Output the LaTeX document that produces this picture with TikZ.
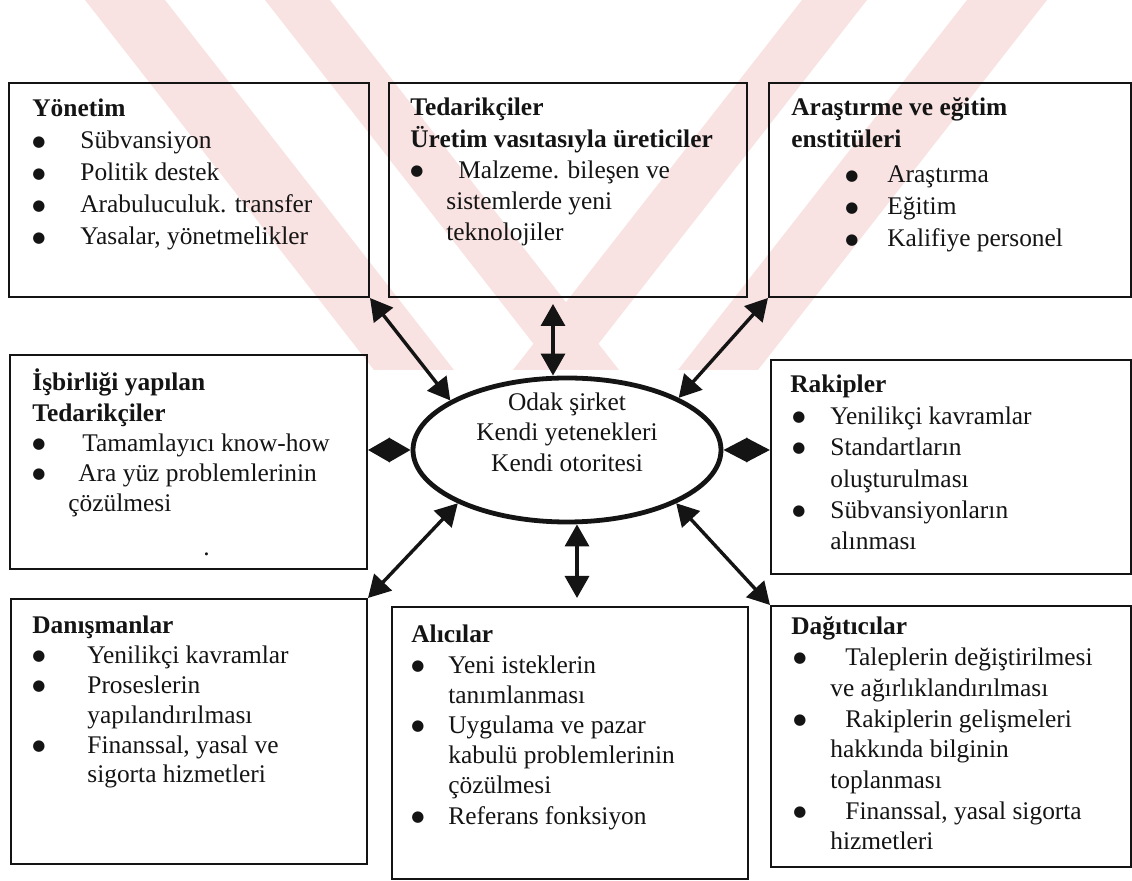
\documentclass[tikz,border=0pt]{standalone}
\usepackage{fontspec}
\setmainfont{Liberation Serif}
\newfontfamily\simge{DejaVu Sans}
\usetikzlibrary{arrows.meta,positioning,calc,shapes.geometric}
\definecolor{Ink}{HTML}{141414}
\definecolor{Pembe}{HTML}{F9E2E2}
\newcommand{\buyuknokta}{\raisebox{1.4pt}{\simge\fontsize{7.5}{7.5}\selectfont ●}}
\newcommand{\mad}[3][0pt]{\hspace*{#1}\makebox[#2][l]{\buyuknokta}#3}
\newcommand{\dev}[2]{\hspace*{#1}#2}
\newcommand{\liste}[1]{\parbox[t]{190pt}{#1}}
\tikzset{
  kutu/.style={draw=Ink,line width=1pt,anchor=north west,inner sep=0pt},
  yazi/.style={anchor=base west,inner sep=0pt,text=Ink},
  odakstil/.style={draw=Ink,ellipse,line width=2.4pt,minimum width=154pt,minimum height=72pt,inner sep=0pt},
  ok/.style={{Triangle[length=#1,width=12pt]}-{Triangle[length=#1,width=12pt]},draw=Ink,line width=1.7pt},
  ok/.default=11pt,
  filigran/.style={fill=Pembe},
}

\begin{document}
\begin{tikzpicture}[x=0.5pt,y=-0.5pt]
    \useasboundingbox (0,0) rectangle (1132,881);

    \begin{scope}
      \clip (0,0) rectangle (1132,370);
      \foreach \a/\b in {85/165,265/330}
        \fill[filigran] (\a,0) -- (\b,0) -- ++(289,370) -- ++(\a-\b,0) -- cycle;
      \foreach \a/\b in {967/1047,802/867}
        \fill[filigran] (\a,0) -- (\b,0) -- ++(-289,370) -- ++(\a-\b,0) -- cycle;
    \end{scope}

    \node[kutu,minimum width=180pt,minimum height=107pt] (yonetim) at (8,82) {};
    \node[kutu,minimum width=179pt,minimum height=107pt] (tedarik) at (388,82) {};
    \node[kutu,minimum width=181pt,minimum height=107pt] (arastirma) at (768,82) {};
    \node[kutu,minimum width=178.5pt,minimum height=107pt] (isbirligi) at (9,354) {};
    \node[kutu,minimum width=180pt,minimum height=107pt] (rakip) at (770,359) {};
    \node[kutu,minimum width=178pt,minimum height=132.5pt] (danisman) at (10,598) {};
    \node[kutu,minimum width=178pt,minimum height=136pt] (alici) at (391,606) {};
    \node[kutu,minimum width=180pt,minimum height=130.5pt] (dagitici) at (770,605) {};

    \node[yazi,font=\fontsize{12.7}{16}\selectfont] (yonetim-yazi) at (32,117) {\liste{%
      \textbf{Yönetim}\\
      \mad{24pt}{Sübvansiyon}\\
      \mad{24pt}{Politik destek}\\
      \mad{24pt}{Arabuluculuk. transfer}\\
      \mad{24pt}{Yasalar, yönetmelikler}}};

    \node[yazi,font=\fontsize{12.7}{15.6}\selectfont] (tedarik-yazi) at (410,116) {\liste{%
      \textbf{Tedarikçiler}\\
      \textbf{Üretim vasıtasıyla üreticiler}\\
      \mad{24pt}{Malzeme. bileşen ve}\\
      \dev{18pt}{sistemlerde yeni}\\
      \dev{18pt}{teknolojiler}}};

    \node[yazi,font=\fontsize{12.7}{16}\selectfont] (arastirma-yazi) at (791,116) {\liste{%
      \textbf{Araştırme ve eğitim}\\
      \textbf{enstitüleri}\\[1.5pt]
      \mad[27pt]{21pt}{Araştırma}\\
      \mad[27pt]{21pt}{Eğitim}\\
      \mad[27pt]{21pt}{Kalifiye personel}}};

    \node[yazi,font=\fontsize{12.7}{15.1}\selectfont] (isbirligi-yazi) at (32,391) {\liste{%
      \textbf{İşbirliği yapılan}\\
      \textbf{Tedarikçiler}\\
      \mad{25pt}{Tamamlayıcı know-how}\\
      \mad{23pt}{Ara yüz problemlerinin}\\
      \dev{18pt}{çözülmesi}}};
    \node[yazi,font=\fontsize{12.7}{15}\selectfont] (nokta) at (203,556) {.};

    \node[yazi,font=\fontsize{12.7}{15.7}\selectfont] (rakip-yazi) at (790,393) {\liste{%
      \textbf{Rakipler}\\
      \mad[1pt]{19pt}{Yenilikçi kavramlar}\\
      \mad[1pt]{19pt}{Standartların}\\
      \dev{20pt}{oluşturulması}\\
      \mad[1pt]{19pt}{Sübvansiyonların}\\
      \dev{20pt}{alınması}}};

    \node[yazi,font=\fontsize{12.7}{14.9}\selectfont] (danisman-yazi) at (32,634) {\liste{%
      \textbf{Danışmanlar}\\
      \mad{27.5pt}{Yenilikçi kavramlar}\\
      \mad{27.5pt}{Proseslerin}\\
      \dev{27.5pt}{yapılandırılması}\\
      \mad{27.5pt}{Finanssal, yasal ve}\\
      \dev{27.5pt}{sigorta hizmetleri}}};

    \node[yazi,font=\fontsize{12.7}{15.1}\selectfont] (alici-yazi) at (411,643) {\liste{%
      \textbf{Alıcılar}\\
      \mad{18.5pt}{Yeni isteklerin}\\
      \dev{18.5pt}{tanımlanması}\\
      \mad{18.5pt}{Uygulama ve pazar}\\
      \dev{18.5pt}{kabulü problemlerinin}\\
      \dev{18.5pt}{çözülmesi}\\
      \mad{18.5pt}{Referans fonksiyon}}};

    \node[yazi,font=\fontsize{12.7}{15.35}\selectfont] (dagitici-yazi) at (791,635) {\liste{%
      \textbf{Dağıtıcılar}\\
      \mad[1pt]{26pt}{Taleplerin değiştirilmesi}\\
      \dev{19.5pt}{ve ağırlıklandırılması}\\
      \mad[1pt]{26pt}{Rakiplerin gelişmeleri}\\
      \dev{19.5pt}{hakkında bilginin}\\
      \dev{19.5pt}{toplanması}\\
      \mad[1pt]{26pt}{Finanssal, yasal sigorta}\\
      \dev{19.5pt}{hizmetleri}}};

    \node[odakstil] (odak) at (567,450) {};
    \node[align=center,inner sep=0pt,text=Ink,font=\fontsize{12.7}{15.2}\selectfont] (odak-yazi) at (567,432)
      {Odak şirket\\Kendi yetenekleri\\Kendi otoritesi};

    \coordinate (kuzey) at ($(odak.north)+(-14,0)$);
    \coordinate (guney) at ($(odak.south)+(10,0)$);

    \draw[ok] (yonetim.south east) -- (odak.157);
    \draw[ok,shorten <=3pt] (kuzey |- tedarik.south) -- (kuzey);
    \draw[ok] (arastirma.south west) -- (odak.25);
    \draw[ok=10.9pt] (isbirligi.east |- odak.west) -- (odak.west);
    \draw[ok=12pt] (odak.east) -- (odak.east -| rakip.west);
    \draw[ok] (odak.206) -- (danisman.north east);
    \draw[ok,shorten >=4pt] (guney) -- (guney |- alici.north);
    \draw[ok] (odak.334) -- (dagitici.north west);
  \end{tikzpicture}
\end{document}
